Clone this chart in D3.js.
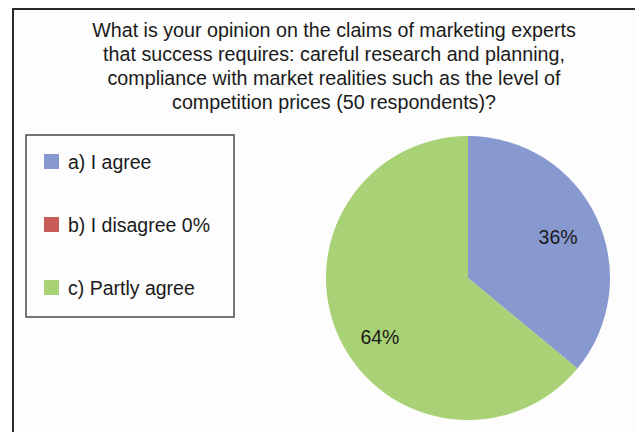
<!DOCTYPE html>
<html>
<head>
<meta charset="utf-8">
<script src="https://d3js.org/d3.v7.min.js"></script>
<style>
  body { margin: 0; background: #ffffff; }
  svg { display: block; font-family: "Liberation Sans", Arial, sans-serif; }
</style>
</head>
<body>
<div id="chart"></div>
<script>

// chart data
var categories = ["a) I agree", "b) I disagree 0%", "c) Partly agree"];
var values = [36, 0, 64];
var colors = ["#8799cf", "#c85a58", "#a9d176"];
var titleLines = [
  "What is your opinion on the claims of marketing experts",
  "that success requires: careful research and planning,",
  "compliance with market realities such as the level of",
  "competition prices (50 respondents)?"
];

var width = 635, height = 432;

var svg = d3.select("#chart")
  .append("svg")
    .attr("width", width)
    .attr("height", height);

// outer frame (runs off the right and bottom edges)
svg.append("rect")
    .attr("x", 13)
    .attr("y", 9)
    .attr("width", 660)
    .attr("height", 460)
    .style("fill", "#fdfdfd")
    .style("stroke", "#2a2a2a")
    .style("stroke-width", 2);

// title
svg.append("g").selectAll("text")
    .data(titleLines)
  .enter().append("text")
    .attr("x", 334)
    .attr("y", function(d, i) { return 37 + i * 24; })
    .attr("text-anchor", "middle")
    .style("font-size", "19.7px")
    .style("fill", "#1a1a1a")
    .text(function(d) { return d; });

// legend
var legend = svg.append("g");
legend.append("rect")
    .attr("x", 26)
    .attr("y", 135)
    .attr("width", 208)
    .attr("height", 182)
    .style("fill", "none")
    .style("stroke", "#4a4a4a")
    .style("stroke-width", 1.5);

var ly = d3.scalePoint()
    .domain(categories)
    .range([162, 288]);

var items = legend.selectAll(".item")
    .data(categories)
  .enter().append("g")
    .attr("class", "item")
    .attr("transform", function(d) { return "translate(0," + ly(d) + ")"; });

items.append("rect")
    .attr("x", 44)
    .attr("y", -8)
    .attr("width", 15)
    .attr("height", 15)
    .style("fill", function(d, i) { return colors[i]; });

items.append("text")
    .attr("x", 68)
    .attr("y", 7)
    .style("font-size", "19.5px")
    .style("fill", "#1a1a1a")
    .text(function(d) { return d; });

// pie
var cx = 468, cy = 278, radius = 142;

var pie = d3.pie()
    .sort(null)
    .value(function(d) { return d; });

var arc = d3.arc()
    .innerRadius(0)
    .outerRadius(radius);

var labelArc = d3.arc()
    .innerRadius(104)
    .outerRadius(104);

var slices = svg.append("g")
    .attr("transform", "translate(" + cx + "," + cy + ")");

var arcs = pie(values);

slices.selectAll("path")
    .data(arcs)
  .enter().append("path")
    .attr("d", arc)
    .style("fill", function(d, i) { return colors[i]; });

// small nudges so the labels sit where the original put them
slices.selectAll("text")
    .data(arcs.filter(function(d) { return d.value > 0; }))
  .enter().append("text")
    .attr("transform", function(d) {
      var c = labelArc.centroid(d);
      if (d.value > 50) { c[0] += 6; c[1] += 15; } else { c[0] -= 4; c[1] += 3; }
      return "translate(" + c + ")";
    })
    .attr("text-anchor", "middle")
    .attr("dy", "0.35em")
    .style("font-size", "19.5px")
    .style("fill", "#1a1a1a")
    .text(function(d) { return d.value + "%"; });

</script>
</body>
</html>
